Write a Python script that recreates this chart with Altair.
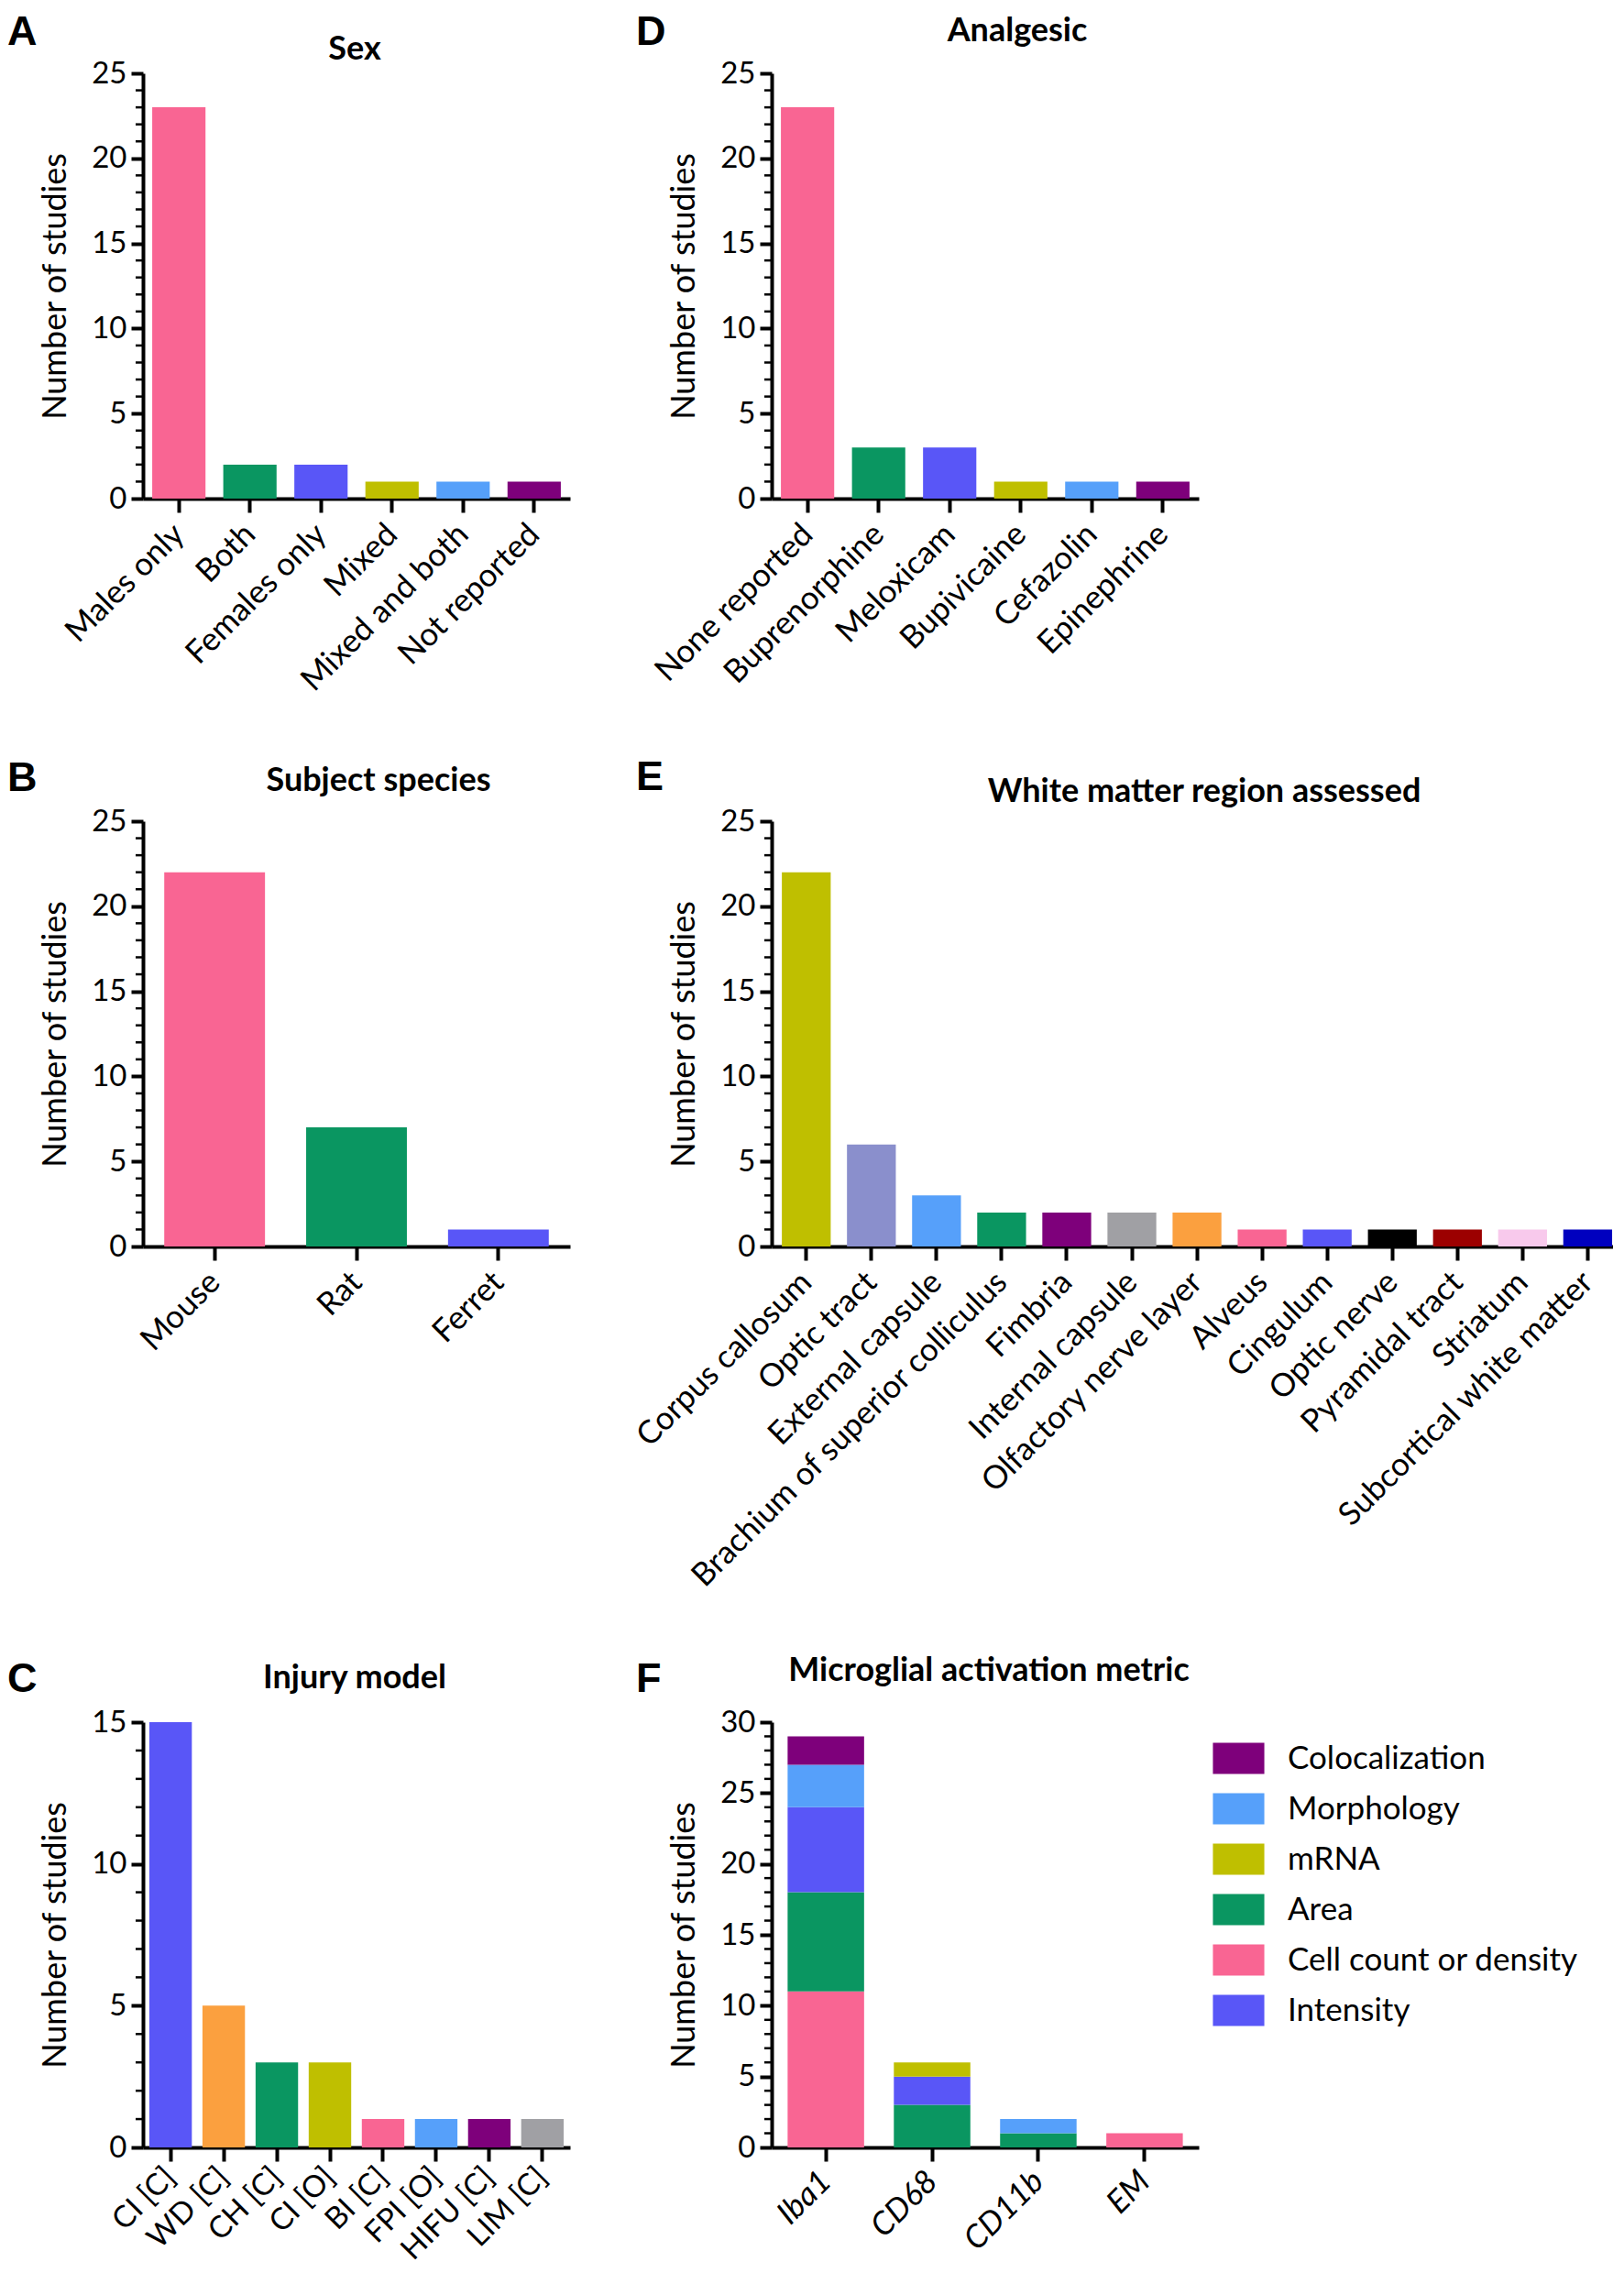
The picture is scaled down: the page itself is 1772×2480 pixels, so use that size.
import altair as alt
import pandas as pd

FONT = "Lato"
LETTER_FONT = "Liberation Sans"

PINK = "#F96593"
GREEN = "#0A9661"
BLUE = "#5956F7"
OLIVE = "#BFBF00"
LBLUE = "#56A0FA"
PURPLE = "#7E007B"
LAVENDER = "#8A8FCC"
GRAY = "#A0A0A4"
ORANGE = "#FBA03F"
BLACK = "#000000"
DARKRED = "#9C0000"
LPINK = "#F8C9EC"
DBLUE = "#0000BF"

# ---- data ----
sex_cats = ["Males only", "Both", "Females only", "Mixed", "Mixed and both", "Not reported"]
sex_vals = [23, 2, 2, 1, 1, 1]
sex_colors = [PINK, GREEN, BLUE, OLIVE, LBLUE, PURPLE]

species_cats = ["Mouse", "Rat", "Ferret"]
species_vals = [22, 7, 1]
species_colors = [PINK, GREEN, BLUE]

injury_cats = ["CI [C]", "WD [C]", "CH [C]", "CI [O]", "BI [C]", "FPI [O]", "HIFU [C]", "LIM [C]"]
injury_vals = [15, 5, 3, 3, 1, 1, 1, 1]
injury_colors = [BLUE, ORANGE, GREEN, OLIVE, PINK, LBLUE, PURPLE, GRAY]

analgesic_cats = ["None reported", "Buprenorphine", "Meloxicam", "Bupivicaine", "Cefazolin", "Epinephrine"]
analgesic_vals = [23, 3, 3, 1, 1, 1]
analgesic_colors = [PINK, GREEN, BLUE, OLIVE, LBLUE, PURPLE]

region_cats = ["Corpus callosum", "Optic tract", "External capsule", "Brachium of superior colliculus",
               "Fimbria", "Internal capsule", "Olfactory nerve layer", "Alveus", "Cingulum",
               "Optic nerve", "Pyramidal tract", "Striatum", "Subcortical white matter"]
region_vals = [22, 6, 3, 2, 2, 2, 2, 1, 1, 1, 1, 1, 1]
region_colors = [OLIVE, LAVENDER, LBLUE, GREEN, PURPLE, GRAY, ORANGE, PINK, BLUE, BLACK, DARKRED, LPINK, DBLUE]

marker_cats = ["Iba1", "CD68", "CD11b", "EM"]
cell_count = [11, 0, 0, 1]
area = [7, 3, 1, 0]
intensity = [6, 2, 0, 0]
mrna = [0, 1, 0, 0]
morphology = [3, 0, 1, 0]
colocalization = [2, 0, 0, 0]
legend_order = ["Colocalization", "Morphology", "mRNA", "Area", "Cell count or density", "Intensity"]
legend_colors = [PURPLE, LBLUE, OLIVE, GREEN, PINK, BLUE]
stack_order = ["Cell count or density", "Area", "Intensity", "mRNA", "Morphology", "Colocalization"]

H = 464
TICK_FS = 33
TITLE_FS = 36
LETTER_FS = 45


def text_layer(txt, x, y, font, size, align):
    return alt.Chart(pd.DataFrame({"t": [txt]})).mark_text(
        font=font, fontSize=size, fontWeight="bold", align=align,
        baseline="alphabetic", color="black"
    ).encode(text="t:N", x=alt.value(x), y=alt.value(y))


def x_axis(italic=False, size=35, pad=18):
    return alt.Axis(title=None, labelAngle=-45, labelAlign="right", labelBaseline="middle",
                    labelFont=FONT, labelFontSize=size, labelColor="black",
                    labelFontStyle="italic" if italic else "normal",
                    labelLimit=1000, labelPadding=pad, labelOverlap=False,
                    tickSize=15, tickWidth=4, tickColor="black",
                    domainWidth=4, domainColor="black", grid=False)


def y_axis(ymax):
    return alt.Axis(values=list(range(0, ymax + 1, 5)), title="Number of studies",
                    titleFont=FONT, titleFontSize=36, titleFontWeight="normal",
                    titleColor="black", titlePadding=20,
                    labelFont=FONT, labelFontSize=TICK_FS, labelColor="black", labelPadding=5,
                    tickSize=13, tickWidth=4, tickColor="black",
                    domainWidth=4, domainColor="black", grid=False)


def minor_layer(ymax):
    vals = [i for i in range(1, ymax) if i % 5]
    return alt.Chart(pd.DataFrame({"v": vals})).mark_rule(color="black", strokeWidth=2.5).encode(
        y=alt.Y("v:Q", axis=y_axis(ymax), scale=alt.Scale(domain=[0, ymax], nice=False)),
        x=alt.value(-8), x2=alt.value(0))


def panel(cats, vals, colors, ymax, width, pi, po, letter, title, tx, ty, ly,
          align=0.5, lsize=35, lpad=18):
    df = pd.DataFrame({"cat": cats, "val": vals})
    bars = alt.Chart(df).mark_bar().encode(
        x=alt.X("cat:N", sort=cats,
                scale=alt.Scale(paddingInner=pi, paddingOuter=po, align=align),
                axis=x_axis(size=lsize, pad=lpad)),
        y=alt.Y("val:Q", scale=alt.Scale(domain=[0, ymax], nice=False), axis=y_axis(ymax)),
        color=alt.Color("cat:N", scale=alt.Scale(domain=cats, range=colors), legend=None),
    )
    return alt.layer(
        bars, minor_layer(ymax),
        text_layer(letter, -148, ly, LETTER_FONT, LETTER_FS, "left"),
        text_layer(title, tx, ty, FONT, TITLE_FS, "center"),
    ).properties(width=width, height=H)


pA = panel(sex_cats, sex_vals, sex_colors, 25, 466, 0.25, 0.13, "A", "Sex", 231, -15, -31)
pD = panel(analgesic_cats, analgesic_vals, analgesic_colors, 25, 466, 0.25, 0.13,
           "D", "Analgesic", 268, -35, -31)
pB = panel(species_cats, species_vals, species_colors, 25, 466, 0.29, 0.15,
           "B", "Subject species", 257, -33, -33)
pE = panel(region_cats, region_vals, region_colors, 25, 918, 0.25, 0.085,
           "E", "White matter region assessed", 472, -21, -34, align=0.92)
pC = panel(injury_cats, injury_vals, injury_colors, 15, 466, 0.2, 0.12,
           "C", "Injury model", 231, -37, -33, lsize=33, lpad=12)

# ---- panel F (stacked) ----
series = {
    "Cell count or density": cell_count,
    "Area": area,
    "Intensity": intensity,
    "mRNA": mrna,
    "Morphology": morphology,
    "Colocalization": colocalization,
}
rows = []
for metric, arr in series.items():
    for m, n in zip(marker_cats, arr):
        if n > 0:
            rows.append({"marker": m, "metric": metric, "n": n, "ord": stack_order.index(metric)})
df_f = pd.DataFrame(rows)

bars_f = alt.Chart(df_f).mark_bar().encode(
    x=alt.X("marker:N", sort=marker_cats,
            scale=alt.Scale(paddingInner=0.28, paddingOuter=0.15),
            axis=x_axis(italic=True, size=35, pad=16)),
    y=alt.Y("n:Q", stack="zero", scale=alt.Scale(domain=[0, 30], nice=False), axis=y_axis(30)),
    color=alt.Color("metric:N", scale=alt.Scale(domain=legend_order, range=legend_colors),
                    legend=alt.Legend(title=None, orient="none", legendX=492, legendY=22,
                                      symbolType="M-1.65,-1H1.65V1H-1.65Z", symbolSize=1156,
                                      symbolStrokeWidth=0, symbolOpacity=1,
                                      labelFont=FONT, labelFontSize=35, labelColor="black",
                                      labelOffset=36, rowPadding=19, padding=0, labelLimit=1000)),
    order=alt.Order("ord:Q", sort="ascending"),
)
pF = alt.layer(
    bars_f, minor_layer(30),
    text_layer("F", -148, -33, LETTER_FONT, LETTER_FS, "left"),
    text_layer("Microglial activation metric", 237, -45, FONT, TITLE_FS, "center"),
).properties(width=466, height=H)


def spacer(h):
    return alt.Chart(pd.DataFrame({"a": [0]})).mark_point(opacity=0).encode(
        x=alt.value(0), y=alt.value(0)).properties(width=1, height=h)


chart = alt.concat(
    pA, pD, spacer(352), spacer(352), pB, pE, spacer(519), spacer(519), pC, pF,
    columns=2, spacing={"row": 0, "column": 220}, bounds="flush", align="each",
).resolve_scale(color="independent").properties(
    padding={"top": 5, "left": 0, "right": 0, "bottom": 0}, background="white"
).configure_view(stroke=None)

chart.save("out.html", embed_options={"renderer": "svg", "actions": False})
